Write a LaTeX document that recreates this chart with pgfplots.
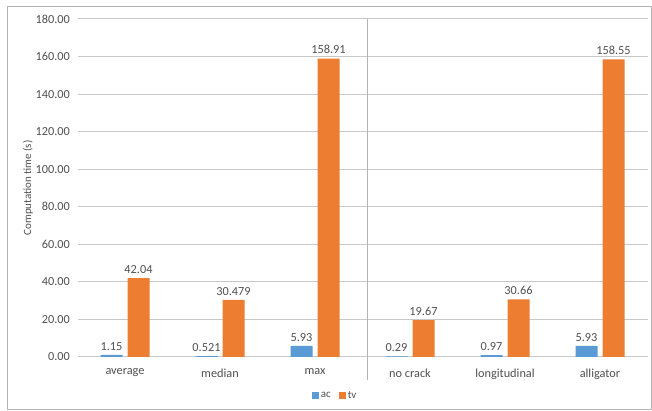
\documentclass[border=0pt]{standalone}
\usepackage{pgfplots}
\pgfplotsset{compat=1.18}
\usepackage{pgfplotstable}
\usepackage{fontspec}
\setmainfont{Carlito}
\definecolor{acblue}{HTML}{5B9BD5}
\definecolor{tvorange}{HTML}{ED7D31}
\definecolor{txtgray}{HTML}{505050}
\definecolor{gridgray}{HTML}{C8C8C8}
\definecolor{framegray}{HTML}{B4B4B4}
\pgfplotstableread{
x ac acl tv tvl
0 1.15 1.15 42.04 42.04
1 0.521 0.521 30.479 30.479
2 5.93 5.93 158.91 158.91
3 0.29 0.29 19.67 19.67
4 0.97 0.97 30.66 30.66
5 5.93 5.93 158.55 158.55
}\datatable
\begin{document}
\begin{tikzpicture}
\useasboundingbox (0,0) rectangle (652pt,411pt);
\draw[framegray, line width=1pt] (7pt,1pt) rectangle (651pt,404pt);
\begin{axis}[
  at={(77.5pt,54pt)}, anchor=south west,
  scale only axis, width=570pt, height=338pt,
  font=\fontsize{12.3}{14}\selectfont,
  ybar=5pt, bar width=22pt,
  xmin=-0.5, xmax=5.5, ymin=0, ymax=180,
  ytick={0,20,...,180},
  /pgf/number format/fixed, /pgf/number format/fixed zerofill,
  /pgf/number format/precision=2, /pgf/number format/assume math mode=true,
  yticklabel style={font=\fontsize{12.3}{14}\selectfont, text=txtgray, xshift=-4pt},
  xtick={0,...,5},
  xticklabels={average,median,max,no crack,longitudinal,alligator},
  xticklabel style={text=txtgray, yshift=-8pt},
  major tick length=0pt,
  ymajorgrids, grid style={gridgray, line width=1pt},
  axis line style={draw=none},
  axis x line*=bottom, axis y line*=left,
  ylabel={Computation time (s)}, ylabel style={text=txtgray, font=\fontsize{11}{13}\selectfont},
  ylabel shift=-4pt,
  clip=false,
  nodes near coords={\pgfplotspointmeta},
  point meta=explicit symbolic,
  every node near coord/.append style={text=txtgray, font=\fontsize{12.3}{14}\selectfont, anchor=south, yshift=1pt},
  legend style={at={(0.452,-0.114)}, anchor=center, legend columns=2, draw=none, fill=none,
    font=\fontsize{11}{13}\selectfont, text=txtgray,
    /tikz/every even column/.append style={column sep=6pt}},
  legend image code/.code={\fill[#1] (0pt,-3pt) rectangle (7pt,4pt);},
]
\draw[gridgray, line width=1pt] (axis cs:-0.5,0) -- (axis cs:5.5,0);
\draw[framegray, line width=1pt] (axis cs:2.553,180) -- (axis cs:2.553,-12.3);
\addplot[fill=acblue, draw=none] table[x=x, y=ac, meta=acl] {\datatable};
\addplot[fill=tvorange, draw=none] table[x=x, y=tv, meta=tvl] {\datatable};
\legend{ac,tv}
\end{axis}
\end{tikzpicture}
\end{document}
